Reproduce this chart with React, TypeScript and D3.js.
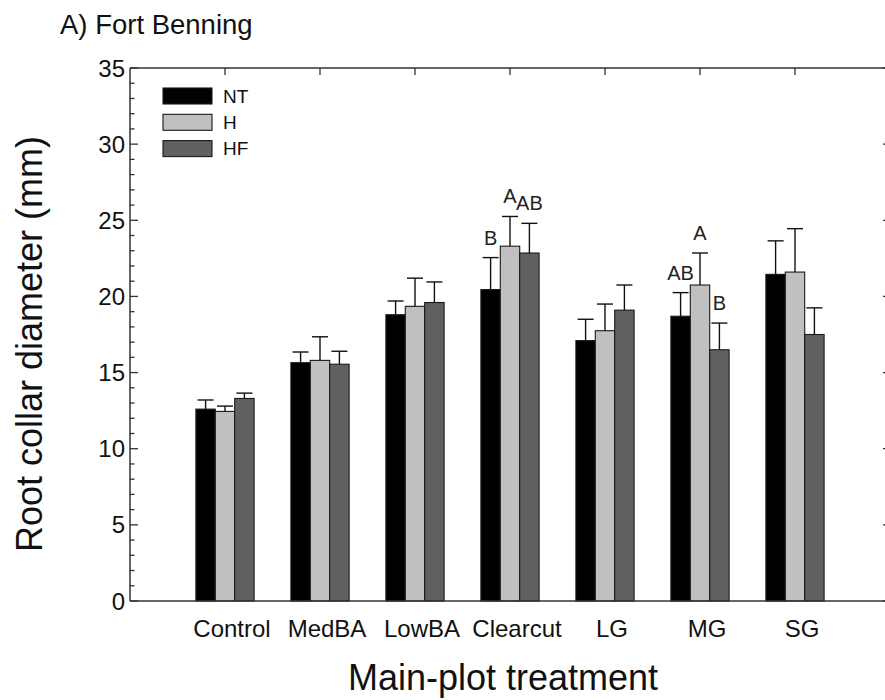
import React from "react";
import * as d3 from "d3";

// Main-plot treatments
const categories = ["Control", "MedBA", "LowBA", "Clearcut", "LG", "MG", "SG"];

// Sub-plot treatments
const seriesNames = ["NT", "H", "HF"];

// Mean root collar diameter (mm) per treatment
const ntMeans = [12.6, 15.65, 18.8, 20.45, 17.1, 18.7, 21.45];
const hMeans = [12.45, 15.8, 19.35, 23.3, 17.75, 20.75, 21.6];
const hfMeans = [13.3, 15.55, 19.6, 22.85, 19.1, 16.5, 17.5];

// Standard errors (upper bars only)
const ntErrors = [0.6, 0.7, 0.9, 2.1, 1.4, 1.55, 2.2];
const hErrors = [0.35, 1.55, 1.85, 1.95, 1.75, 2.1, 2.85];
const hfErrors = [0.35, 0.85, 1.35, 1.95, 1.65, 1.75, 1.75];

// Mean separation letters
const letterCategories = ["Clearcut", "Clearcut", "Clearcut", "MG", "MG", "MG"];
const letterSeries = ["NT", "H", "HF", "NT", "H", "HF"];
const letterTexts = ["B", "A", "AB", "AB", "A", "B"];

const yTicks = [0, 5, 10, 15, 20, 25, 30, 35];

const seriesColors = ["#000000", "#c0c0c0", "#606060"];
const FONT = "'Liberation Sans', Arial, Helvetica, sans-serif";

export default function App() {
  const width = 885;
  const height = 700;
  const left = 130;
  const right = 890;
  const top = 68;
  const bottom = 601;

  const x = d3.scalePoint<string>().domain(categories).range([left, right]).padding(1);
  const y = d3.scaleLinear().domain([0, 35]).range([bottom, top]);
  const barW = 19.4;
  const capW = 16;

  const means = [ntMeans, hMeans, hfMeans];
  const errors = [ntErrors, hErrors, hfErrors];

  const barX = (cat: string, s: number) => (x(cat) as number) + (s - 1.5) * barW;

  const minorTicks = d3.range(0, 36, 1).filter((v) => v % 5 !== 0);
  const axisColor = "#333";

  return (
    <svg
      width={width}
      height={height}
      style={{ position: "absolute", left: 0, top: 0, background: "#fff" }}
      fontFamily={FONT}
    >
      <rect x={0} y={0} width={width} height={height} fill="#fff" />

      {/* Title */}
      <text x={60} y={34} fontSize={27.5} fill="#111">
        A) Fort Benning
      </text>

      {/* Bars */}
      {seriesNames.map((name, s) =>
        categories.map((cat, i) => (
          <rect
            key={`${name}-${cat}`}
            x={barX(cat, s)}
            y={y(means[s][i])}
            width={barW}
            height={y(0) - y(means[s][i])}
            fill={seriesColors[s]}
            stroke="#1a1a1a"
            strokeWidth={1.1}
          />
        ))
      )}

      {/* Error bars */}
      {seriesNames.map((name, s) =>
        categories.map((cat, i) => {
          const cx = barX(cat, s) + barW / 2;
          const y0 = y(means[s][i]);
          const y1 = y(means[s][i] + errors[s][i]);
          return (
            <g key={`err-${name}-${cat}`} stroke="#111" strokeWidth={1.4}>
              <line x1={cx} x2={cx} y1={y0} y2={y1} />
              <line x1={cx - capW / 2} x2={cx + capW / 2} y1={y1} y2={y1} />
            </g>
          );
        })
      )}

      {/* Letters */}
      {letterTexts.map((t, k) => {
        const s = seriesNames.indexOf(letterSeries[k]);
        const i = categories.indexOf(letterCategories[k]);
        const cx = barX(letterCategories[k], s) + barW / 2;
        const yTop = y(means[s][i] + errors[s][i]);
        return (
          <text key={`letter-${k}`} x={cx} y={yTop - 13} fontSize={20} textAnchor="middle" fill="#222">
            {t}
          </text>
        );
      })}

      {/* Frame */}
      <g stroke={axisColor} strokeWidth={1.5} fill="none">
        <line x1={left} x2={left} y1={top} y2={bottom} />
        <line x1={left} x2={right} y1={bottom} y2={bottom} />
        <line x1={left} x2={right} y1={top} y2={top} />
        <line x1={right} x2={right} y1={top} y2={bottom} />
      </g>

      {/* Left axis ticks */}
      <g stroke={axisColor} strokeWidth={1.3}>
        {yTicks.map((v) => (
          <line key={`maj-${v}`} x1={left} x2={left + 8} y1={y(v)} y2={y(v)} />
        ))}
        {minorTicks.map((v) => (
          <line key={`min-${v}`} x1={left} x2={left + 4.5} y1={y(v)} y2={y(v)} />
        ))}
        {yTicks.map((v) => (
          <line key={`r-${v}`} x1={right} x2={right - 7} y1={y(v)} y2={y(v)} />
        ))}
        {categories.map((c) => (
          <line key={`t-${c}`} x1={x(c) as number} x2={x(c) as number} y1={top} y2={top + 7} />
        ))}
      </g>

      {/* Left axis labels */}
      {yTicks.map((v) => (
        <text key={`yl-${v}`} x={left - 5} y={y(v)} dy="0.36em" fontSize={24} textAnchor="end" fill="#111">
          {v}
        </text>
      ))}

      {/* Category labels */}
      {categories.map((c) => (
        <text key={`xl-${c}`} x={(x(c) as number) + 7} y={637} fontSize={24} textAnchor="middle" fill="#111">
          {c}
        </text>
      ))}

      {/* Axis titles */}
      <text
        transform={`translate(42,344) rotate(-90)`}
        fontSize={36}
        textAnchor="middle"
        fill="#111"
      >
        Root collar diameter (mm)
      </text>
      <text x={503} y={690} fontSize={36} textAnchor="middle" fill="#111">
        Main-plot treatment
      </text>

      {/* Legend */}
      {seriesNames.map((name, s) => (
        <g key={`leg-${name}`} transform={`translate(163,${88 + s * 26.3})`}>
          <rect width={49} height={16} fill={seriesColors[s]} stroke="#1a1a1a" strokeWidth={1.1} />
          <text x={60} y={8} dy="0.36em" fontSize={19} fill="#111">
            {name}
          </text>
        </g>
      ))}
    </svg>
  );
}
